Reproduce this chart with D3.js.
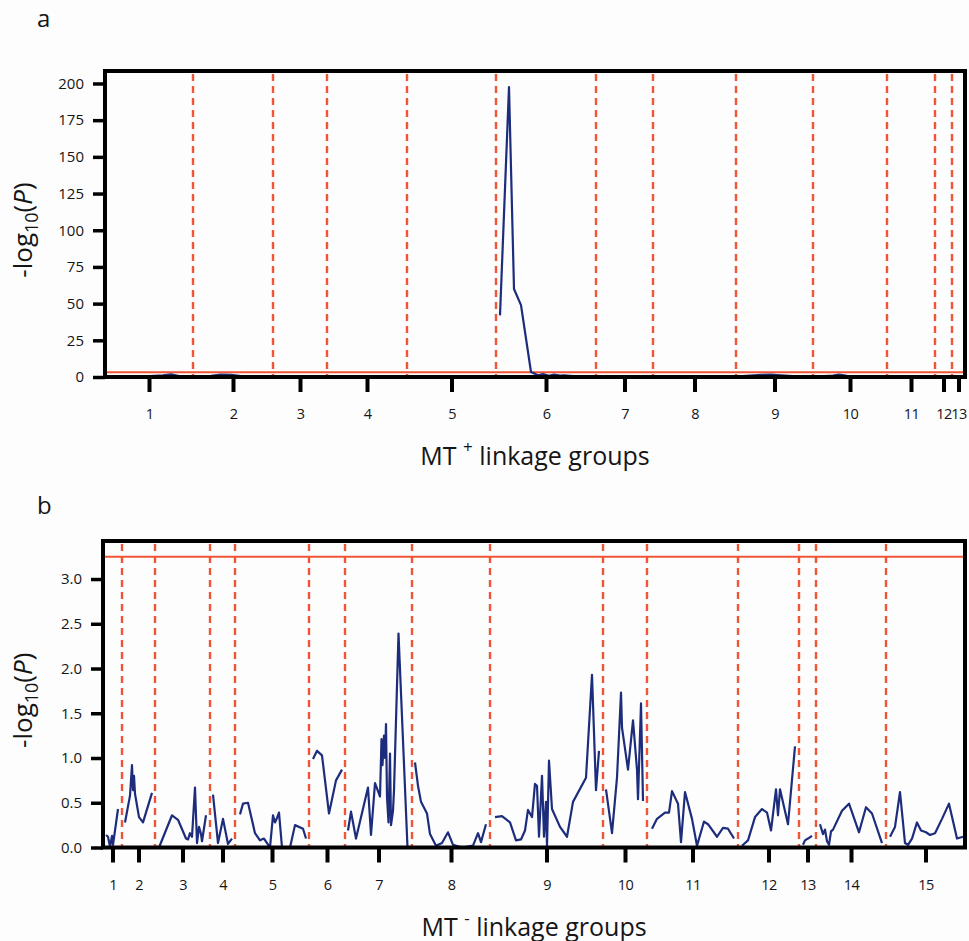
<!DOCTYPE html>
<html>
<head>
<meta charset="utf-8">
<script src="https://cdn.jsdelivr.net/npm/d3@7"></script>
<style>
  body { margin: 0; background: #fdfdfe; }
  text { font-family: "Open Sans", "DejaVu Sans", sans-serif; fill: #151515; }
</style>
</head>
<body>
<svg id="chart" width="969" height="941"></svg>
<script>
var groupsPlus = ["1","2","3","4","5","6","7","8","9","10","11","12","13"];
var lengthsPlus = [88, 80, 54, 80, 89, 100, 57, 83, 77, 74, 48, 17, 13];
var groupsMinus = ["1","2","3","4","5","6","7","8","9","10","11","12","13","14","15"];
var lengthsMinus = [19, 33, 55, 25, 74, 36, 67, 78, 113, 44, 91, 61, 17, 70, 79];

var yTicksPlus = [0, 25, 50, 75, 100, 125, 150, 175, 200];
var yTicksMinus = [0, 0.5, 1.0, 1.5, 2.0, 2.5, 3.0];
var thresholdPlus = 3.25;
var thresholdMinus = 3.25;

// -log10(P) scans, one list per linkage group: [position in group (cM), value]
var scanPlus = [
  [[4,0.3],[20,0.6],[40,0.4],[58,1.2],[66,1.8],[74,0.6],[86,0.3]],
  [[3,0.4],[18,0.8],[28,1.6],[38,1.4],[50,0.5],[70,0.3]],
  [[3,0.2],[25,0.5],[50,0.3]],
  [[4,0.3],[40,0.6],[76,0.2]],
  [[4,0.2],[45,0.4],[85,0.3]],
  [[4,42],[13,197.5],[18,60],[25,49],[35,3.4],[42,1.2],[47,2.0],[53,0.8],[58,1.6],[64,0.9],[68,1.2],[80,0.4],[96,0.2]],
  [[3,0.3],[30,0.5],[55,0.2]],
  [[4,0.2],[40,0.5],[80,0.3]],
  [[3,0.4],[25,1.4],[35,1.6],[45,1.2],[60,0.5],[74,0.3]],
  [[3,0.3],[20,1.0],[26,1.6],[34,0.8],[60,0.4],[72,0.2]],
  [[3,0.2],[24,0.4],[46,0.2]],
  [[2,0.2],[15,0.3]],
  [[2,0.2],[11,0.3]]
];

var scanMinus = [
  [[3,0.14],[5,0.12],[7,0.01],[9,0.13],[10,0.03],[15,0.43]],
  [[3,0.28],[8,0.58],[10,0.92],[11,0.64],[12,0.80],[13,0.60],[17,0.34],[21,0.28],[30,0.61]],
  [[4,0.0],[17,0.36],[23,0.31],[31,0.10],[33,0.09],[35,0.16],[37,0.12],[40,0.67],[42,0.05],[44,0.23],[46,0.15],[47,0.07],[51,0.36]],
  [[3,0.59],[8,0.05],[13,0.32],[18,0.04],[22,0.10]],
  [[5,0.37],[8,0.49],[13,0.50],[20,0.16],[25,0.08],[29,0.10],[35,0.0],[38,0.36],[40,0.28],[42,0.33],[44,0.39],[47,0.0],[55,0.0],[60,0.25],[68,0.21],[71,0.10]],
  [[4,0.99],[8,1.08],[13,1.03],[20,0.38],[27,0.75],[33,0.87]],
  [[3,0.19],[6,0.40],[11,0.10],[23,0.67],[26,0.14],[30,0.72],[35,0.57],[36.5,1.21],[37.5,0.92],[39,1.25],[40,1.00],[41,1.38],[42,0.56],[43.5,0.28],[45,1.05],[46,0.25],[48,0.41],[49,0.64],[53.5,2.39],[62.5,0.0]],
  [[3,0.95],[6,0.69],[9,0.51],[15,0.38],[18,0.15],[24,0.02],[30,0.05],[36,0.17],[41,0.03],[50,0.0],[61,0.02],[66,0.16],[69,0.06],[74,0.26]],
  [[5,0.34],[12,0.35],[20,0.28],[26,0.08],[31,0.09],[35,0.19],[38,0.42],[42,0.34],[45,0.71],[47,0.69],[49,0.12],[52,0.80],[54,0.12],[56,0.51],[57,0.02],[59,0.97],[62,0.43],[70,0.23],[77,0.12],[83,0.51],[96,0.78],[102,1.93],[106,0.64],[109,1.08]],
  [[3,0.65],[9,0.16],[14,0.78],[18,1.73],[19,1.34],[25,0.87],[30,1.42],[34,0.87],[35,0.54],[38,1.61],[40,0.52]],
  [[5,0.21],[10,0.32],[18,0.39],[22,0.39],[25,0.63],[31,0.49],[34,0.06],[38,0.62],[45,0.32],[50,0.02],[57,0.29],[61,0.26],[70,0.12],[76,0.22],[81,0.21],[87,0.10]],
  [[4,0.02],[10,0.08],[17,0.34],[24,0.43],[29,0.39],[33,0.19],[38,0.65],[40,0.36],[42,0.65],[50,0.26],[57,1.13]],
  [[4,0.03],[6,0.08],[9,0.10],[13,0.13]],
  [[4,0.26],[7,0.15],[9,0.20],[11,0.07],[13,0.03],[15,0.18],[17,0.20],[26,0.41],[33,0.49],[43,0.17],[50,0.45],[56,0.38],[66,0.05]],
  [[4,0.12],[9,0.23],[14,0.62],[19,0.05],[22,0.03],[26,0.10],[31,0.28],[35,0.19],[40,0.17],[44,0.14],[49,0.16],[56,0.32],[63,0.49],[71,0.10],[77,0.12]]
];

var blue = "#1d2d7c";
var red = "#f15535";
var svg = d3.select("#chart");

function drawPanel(cfg) {
  var g = svg.append("g");
  var starts = d3.cumsum([0].concat(cfg.lengths));
  var total = starts[starts.length - 1];

  var x = d3.scaleLinear().domain([0, total]).range([cfg.left, cfg.right]);
  var y = d3.scaleLinear().domain([0, cfg.yTop]).range([cfg.bottom, cfg.top]);

  g.append("clipPath").attr("id", cfg.id + "-clip")
    .append("rect")
    .attr("x", cfg.left).attr("y", cfg.top)
    .attr("width", cfg.right - cfg.left).attr("height", cfg.bottom - cfg.top);

  // group boundaries
  g.selectAll(".bound")
    .data(starts.slice(1, starts.length - 1))
    .enter().append("line")
    .attr("x1", function(d) { return x(d); })
    .attr("x2", function(d) { return x(d); })
    .attr("y1", cfg.top + 3)
    .attr("y2", cfg.bottom)
    .attr("stroke", red)
    .attr("stroke-width", 2.4)
    .attr("stroke-dasharray", "7,5");

  // significance threshold
  g.append("line")
    .attr("x1", cfg.left).attr("x2", cfg.right)
    .attr("y1", y(cfg.threshold)).attr("y2", y(cfg.threshold))
    .attr("stroke", red)
    .attr("stroke-width", 2);

  var line = d3.line();
  g.append("g")
    .attr("clip-path", "url(#" + cfg.id + "-clip)")
    .selectAll("path")
    .data(cfg.scan)
    .enter().append("path")
    .attr("d", function(pts, i) {
      return line.x(function(d) { return x(starts[i] + d[0]); })
                 .y(function(d) { return y(d[1]); })(pts);
    })
    .attr("fill", "none")
    .attr("stroke", blue)
    .attr("stroke-width", 2.2)
    .attr("stroke-linejoin", "round");

  // frame
  g.append("rect")
    .attr("x", cfg.left).attr("y", cfg.top)
    .attr("width", cfg.right - cfg.left).attr("height", cfg.bottom - cfg.top)
    .attr("fill", "none")
    .attr("stroke", "#000")
    .attr("stroke-width", 4);

  var yAxis = g.append("g")
    .attr("transform", "translate(" + cfg.left + ",0)")
    .call(d3.axisLeft(y).tickValues(cfg.yTicks).tickSize(12).tickPadding(9).tickFormat(cfg.fmt));
  yAxis.select(".domain").remove();
  yAxis.selectAll("line").attr("stroke", "#000").attr("stroke-width", 3.5);
  yAxis.selectAll("text").attr("font-size", 15).attr("font-family", null);

  var centers = cfg.lengths.map(function(l, i) { return starts[i] + l / 2; });
  var xAxis = g.append("g")
    .attr("transform", "translate(0," + cfg.bottom + ")")
    .call(d3.axisBottom(x).tickValues(centers).tickSize(15).tickPadding(17)
      .tickFormat(function(d, i) { return cfg.groups[i]; }));
  xAxis.select(".domain").remove();
  xAxis.selectAll("line").attr("stroke", "#000").attr("stroke-width", 4);
  xAxis.selectAll("text").attr("font-size", 14.5).attr("font-family", null)
    .attr("letter-spacing", -0.6);

  // y title
  var yt = g.append("text")
    .attr("transform", "translate(32," + ((cfg.top + cfg.bottom) / 2 + 6) + ") rotate(-90)")
    .attr("text-anchor", "middle")
    .attr("font-size", 26);
  yt.append("tspan").text("-log");
  yt.append("tspan").attr("font-size", 18).attr("dy", 6).text("10");
  yt.append("tspan").attr("dy", -6).text("(");
  yt.append("tspan").attr("font-style", "italic").text("P");
  yt.append("tspan").text(")");

  // x title
  var xt = g.append("text")
    .attr("x", (cfg.left + cfg.right) / 2)
    .attr("y", cfg.bottom + 88)
    .attr("text-anchor", "middle")
    .attr("font-size", 25);
  xt.append("tspan").text("MT ");
  xt.append("tspan").attr("font-size", 17).attr("dy", -12).text(cfg.sup);
  xt.append("tspan").attr("dy", 12).text(" linkage groups");

  // panel letter
  g.append("text")
    .attr("x", 37).attr("y", cfg.letterY)
    .attr("font-size", 24)
    .text(cfg.letter);
}

drawPanel({
  id: "a", letter: "a", letterY: 27, sup: "+",
  groups: groupsPlus, lengths: lengthsPlus, scan: scanPlus,
  threshold: thresholdPlus, yTicks: yTicksPlus, yTop: 208.5,
  fmt: d3.format("d"),
  left: 105, right: 965, top: 71, bottom: 377
});

drawPanel({
  id: "b", letter: "b", letterY: 514, sup: "-",
  groups: groupsMinus, lengths: lengthsMinus, scan: scanMinus,
  threshold: thresholdMinus, yTicks: yTicksMinus, yTop: 3.425,
  fmt: d3.format(".1f"),
  left: 103, right: 965, top: 541, bottom: 847.5
});
</script>
</body>
</html>
